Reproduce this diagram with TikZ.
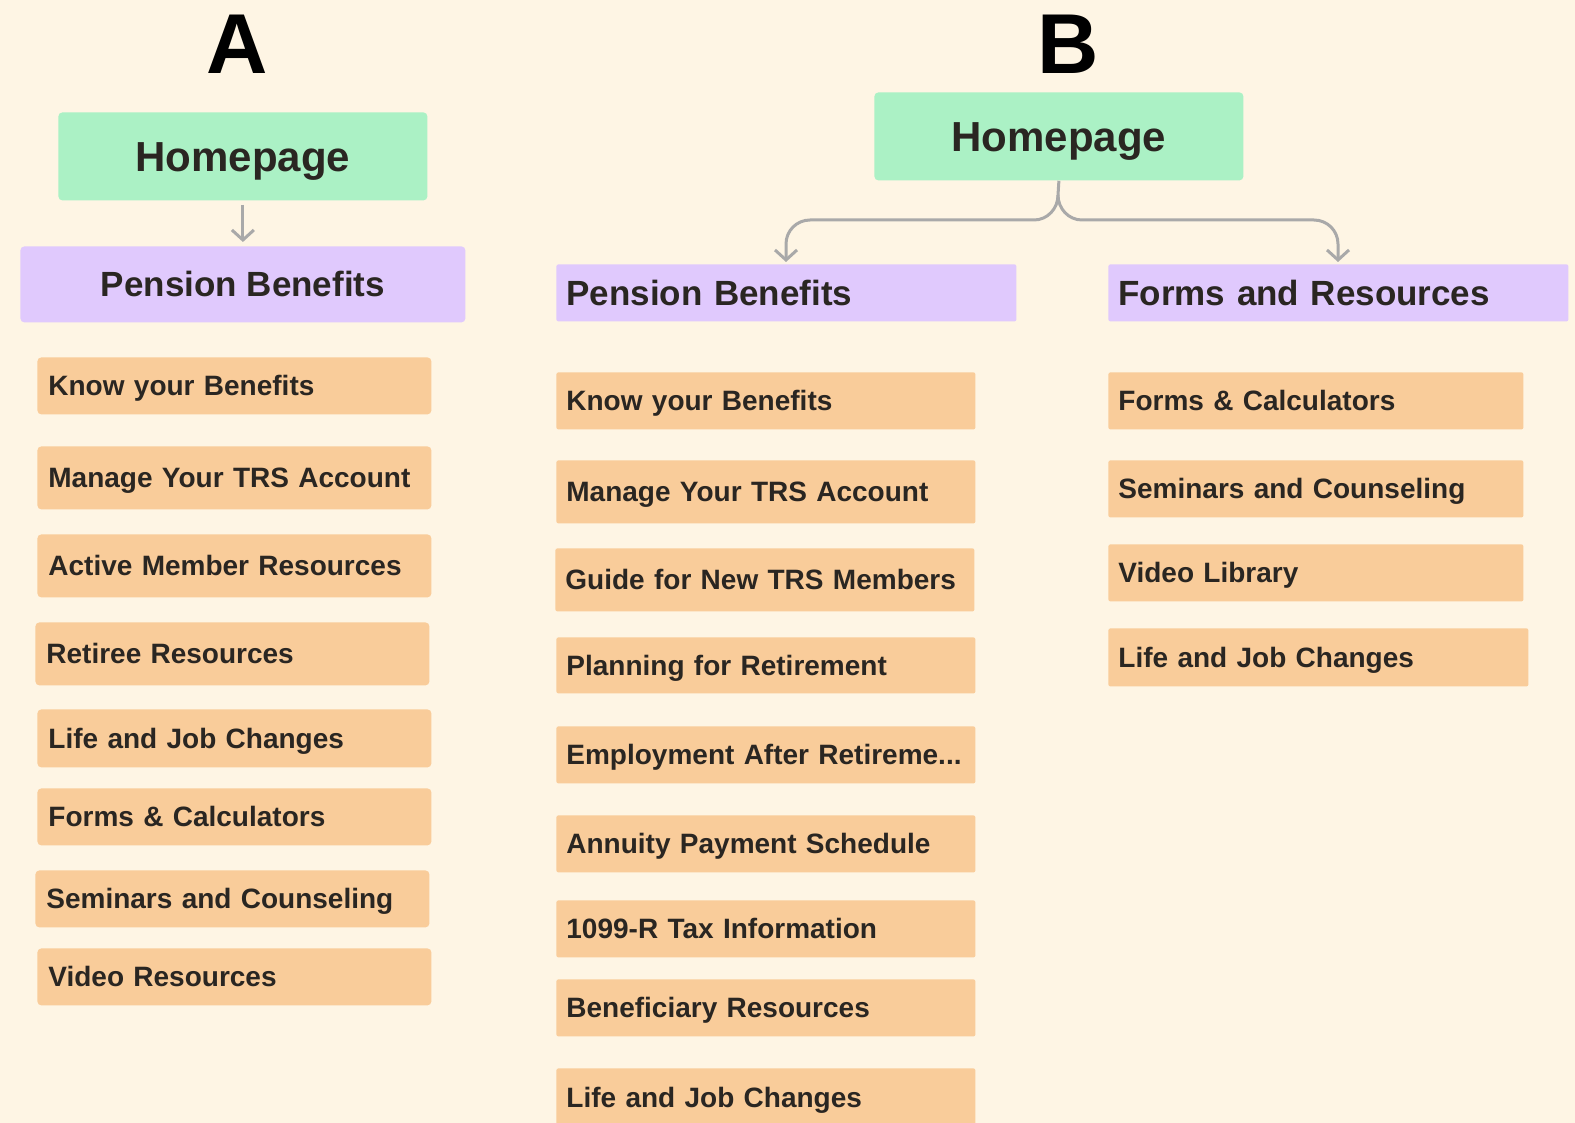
\documentclass[tikz,border=0pt]{standalone}
\usepackage{fontspec}
\setmainfont{Liberation Sans}
\usetikzlibrary{arrows.meta}
\definecolor{bgc}{HTML}{FEF5E4}
\definecolor{orangec}{HTML}{F9CC9A}
\definecolor{greenc}{HTML}{ABF1C5}
\definecolor{purplec}{HTML}{E0C9FD}
\definecolor{txtc}{HTML}{2A2622}
\definecolor{connc}{HTML}{A9A9A9}
\tikzset{
  x=0.5pt, y=-0.5pt,
  box/.style={rectangle, rounded corners=2pt, inner ysep=0pt, text=txtc, font=\bfseries},
  homebox/.style={box, fill=greenc, anchor=north west, minimum width=184.5pt, minimum height=44pt, text height=15pt, text depth=0pt, font=\bfseries\fontsize{21}{25}\selectfont},
  sectA/.style={box, fill=purplec, anchor=north west, minimum width=222.5pt, minimum height=38pt, text height=12.5pt, text depth=0pt, font=\bfseries\fontsize{17.5}{21}\selectfont},
  sectB/.style={box, fill=purplec, rounded corners=1pt, anchor=north west, minimum width=230pt, minimum height=28.5pt, inner xsep=5pt, text width=220pt, align=left, text height=12.5pt, text depth=0pt, font=\bfseries\fontsize{17.5}{21}\selectfont},
  itemA/.style={box, fill=orangec, anchor=north west, inner xsep=5.5pt, text width=186pt, align=left, text height=10pt, text depth=0pt, font=\bfseries\fontsize{14}{17}\selectfont},
  itemB/.style={box, fill=orangec, rounded corners=1pt, anchor=north west, inner xsep=5pt, text width=199.5pt, align=left, text height=10pt, text depth=0pt, font=\bfseries\fontsize{14}{17}\selectfont},
  itemC/.style={box, fill=orangec, rounded corners=1pt, anchor=north west, inner xsep=5pt, text width=197.5pt, align=left, text height=10pt, text depth=0pt, font=\bfseries\fontsize{14}{17}\selectfont},
  conn/.style={draw=connc, line width=1.5pt, -{Straight Barb[length=5pt,width=11pt,line width=1.5pt]}},
  letter/.style={font=\bfseries\fontsize{42.5}{46}\selectfont, text=black, inner sep=0pt, text height=30.5pt, text depth=0pt}
}
\begin{document}
\begin{tikzpicture}
\fill[bgc] (0,0) rectangle (1575,1123);
\useasboundingbox (0,0) rectangle (1575,1123);

% Letters
\node[letter] (la) at (237.5,43.5) {A};
\node[letter] (lb) at (1068,43.5) {B};

% ---------- A ----------
\node[homebox] (hA) at (58,112) {Homepage};
\node[sectA] (pA) at (20,246) {Pension Benefits};
\draw[conn, shorten <=2pt, shorten >=2pt] (hA.south) -- (pA.north);

\node[itemA, minimum height=28.5pt] (a1) at (37,357) {Know your Benefits};
\node[itemA, minimum height=31.5pt] (a2) at (37,446) {Manage Your TRS Account};
\node[itemA, minimum height=31.5pt] (a3) at (37,534) {Active Member Resources};
\node[itemA, minimum height=31.5pt] (a4) at (35,622) {Retiree Resources};
\node[itemA, minimum height=29pt] (a5) at (37,709) {Life and Job Changes};
\node[itemA, minimum height=28.5pt] (a6) at (37,788) {Forms \& Calculators};
\node[itemA, minimum height=28.5pt] (a7) at (35,870) {Seminars and Counseling};
\node[itemA, minimum height=28.5pt] (a8) at (37,948) {Video Resources};

% ---------- B ----------
\node[homebox] (hB) at (874,92) {Homepage};
\node[sectB] (pB) at (556,264) {Pension Benefits};
\node[sectB] (fB) at (1108,264) {Forms and Resources};

\coordinate (split) at (1058,195);
\coordinate (pBin) at (786,262);
\coordinate (fBin) at (1338,262);
\draw[conn] (hB.south) -- (split) to[out=-90,in=0] (1034,220) -- (810,220) to[out=180,in=90] (pBin |- 0,244) -- (pBin);
\draw[conn] (split) to[out=-90,in=180] (1082,220) -- (1314,220) to[out=0,in=90] (fBin |- 0,244) -- (fBin);

\node[itemB, minimum height=28.5pt] (b1) at (556,372) {Know your Benefits};
\node[itemB, minimum height=31.5pt] (b2) at (556,460) {Manage Your TRS Account};
\node[itemB, minimum height=31.5pt] (b3) at (555,548) {Guide for New TRS Members};
\node[itemB, minimum height=28pt] (b4) at (556,637) {Planning for Retirement};
\node[itemB, minimum height=28.5pt] (b5) at (556,726) {Employment After Retireme...};
\node[itemB, minimum height=28.5pt] (b6) at (556,815) {Annuity Payment Schedule};
\node[itemB, minimum height=28.5pt] (b7) at (556,900) {1099-R Tax Information};
\node[itemB, minimum height=28.5pt] (b8) at (556,979) {Beneficiary Resources};
\node[itemB, minimum height=29pt] (b9) at (556,1068) {Life and Job Changes};

\node[itemC, minimum height=28.5pt] (c1) at (1108,372) {Forms \& Calculators};
\node[itemC, minimum height=28.5pt] (c2) at (1108,460) {Seminars and Counseling};
\node[itemC, minimum height=28.5pt] (c3) at (1108,544) {Video Library};
\node[itemC, text width=200pt, minimum height=29pt] (c4) at (1108,628) {Life and Job Changes};
\end{tikzpicture}
\end{document}
